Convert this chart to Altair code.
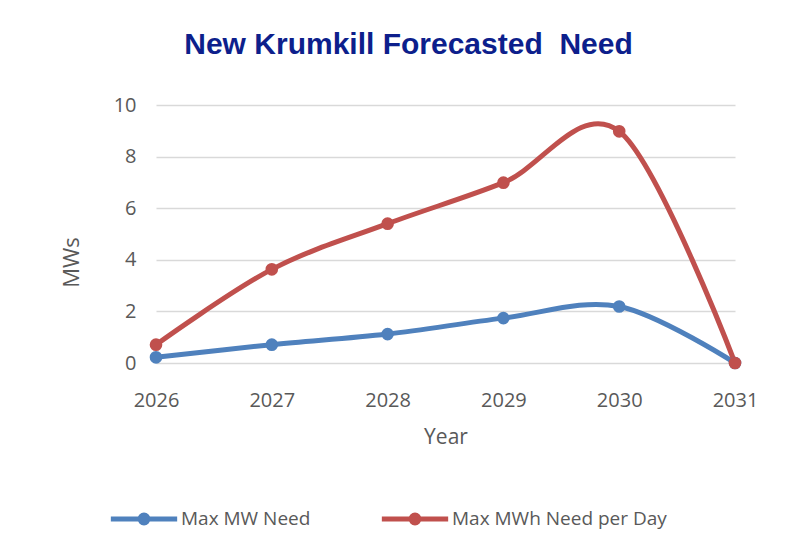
import altair as alt
import pandas as pd

years = [2026, 2027, 2028, 2029, 2030, 2031]
max_mw = [0.22, 0.71, 1.12, 1.74, 2.19, 0.0]
max_mwh = [0.71, 3.63, 5.40, 6.99, 8.98, 0.0]
series = ["Max MW Need", "Max MWh Need per Day"]
colors = ["#4F81BD", "#C0504D"]

rows = []
for y, a, b in zip(years, max_mw, max_mwh):
    rows.append({"Year": y, "Series": series[0], "MWs": a})
    rows.append({"Year": y, "Series": series[1], "MWs": b})
df = pd.DataFrame(rows)

FONT = "Liberation Sans, Arial, sans-serif"
LFONT = "Open Sans, Noto Sans, sans-serif"
GRAY = "#595959"

legend_sym = "M-1,0L1,0M0,-0.12A0.12,0.12 0 1,1 0,0.12A0.12,0.12 0 1,1 0,-0.12"

color = alt.Color(
    "Series:N",
    scale=alt.Scale(domain=series, range=colors),
    legend=alt.Legend(
        title=None,
        orient="none",
        legendX=-48,
        legendY=378,
        direction="horizontal",
        symbolType=legend_sym,
        symbolSize=4400,
        symbolStrokeWidth=5,
        symbolFillColor="transparent",
        labelFont=LFONT,
        labelFontSize=19,
        labelColor=GRAY,
        labelLimit=400,
        columnPadding=60,
        labelOffset=1,
    ),
)

x = alt.X(
    "Year:Q",
    scale=alt.Scale(domain=[2026, 2031], nice=False, zero=False),
    axis=alt.Axis(
        values=years, format="d", grid=False, domain=False, ticks=False, labelFlush=False,
        labelFont=LFONT, labelFontSize=20, labelColor=GRAY, labelPadding=27,
        title="Year", titleFont=LFONT, titleFontSize=21, titleColor=GRAY,
        titleFontWeight="normal", titlePadding=16,
    ),
)
y = alt.Y(
    "MWs:Q",
    scale=alt.Scale(domain=[0, 10], nice=False),
    axis=alt.Axis(
        values=[0, 2, 4, 6, 8, 10], grid=True, gridColor="#D9D9D9", gridWidth=1.5,
        domain=False, ticks=False,
        labelFont=LFONT, labelFontSize=20, labelColor=GRAY, labelPadding=20,
        title="MWs", titleFont=LFONT, titleFontSize=22, titleColor=GRAY,
        titleFontWeight="normal", titlePadding=30, titleY=157,
    ),
)

line = alt.Chart(df).mark_line(
    interpolate="cardinal", strokeWidth=5, strokeCap="round"
).encode(x=x, y=y, color=color, order="Year:Q")

pts = alt.Chart(df).mark_circle(size=160, opacity=1).encode(
    x=x, y=y, color=alt.Color("Series:N", scale=alt.Scale(domain=series, range=colors), legend=None)
)

chart = alt.layer(line, pts).properties(
    width=579,
    height=258,
    padding={"left": 148, "top": 97, "right": 54, "bottom": 196},
    autosize=alt.AutoSizeParams(type="none"),
    background="white",
    title=alt.Title(
        "New Krumkill Forecasted\u00a0 Need",
        font=FONT, fontSize=30, fontWeight="bold", color="#0D1F8C",
        anchor="middle", dx=-37, offset=35,
    ),
).configure_view(stroke=None)

chart.save("out.html", embed_options={"renderer": "svg", "actions": False})
